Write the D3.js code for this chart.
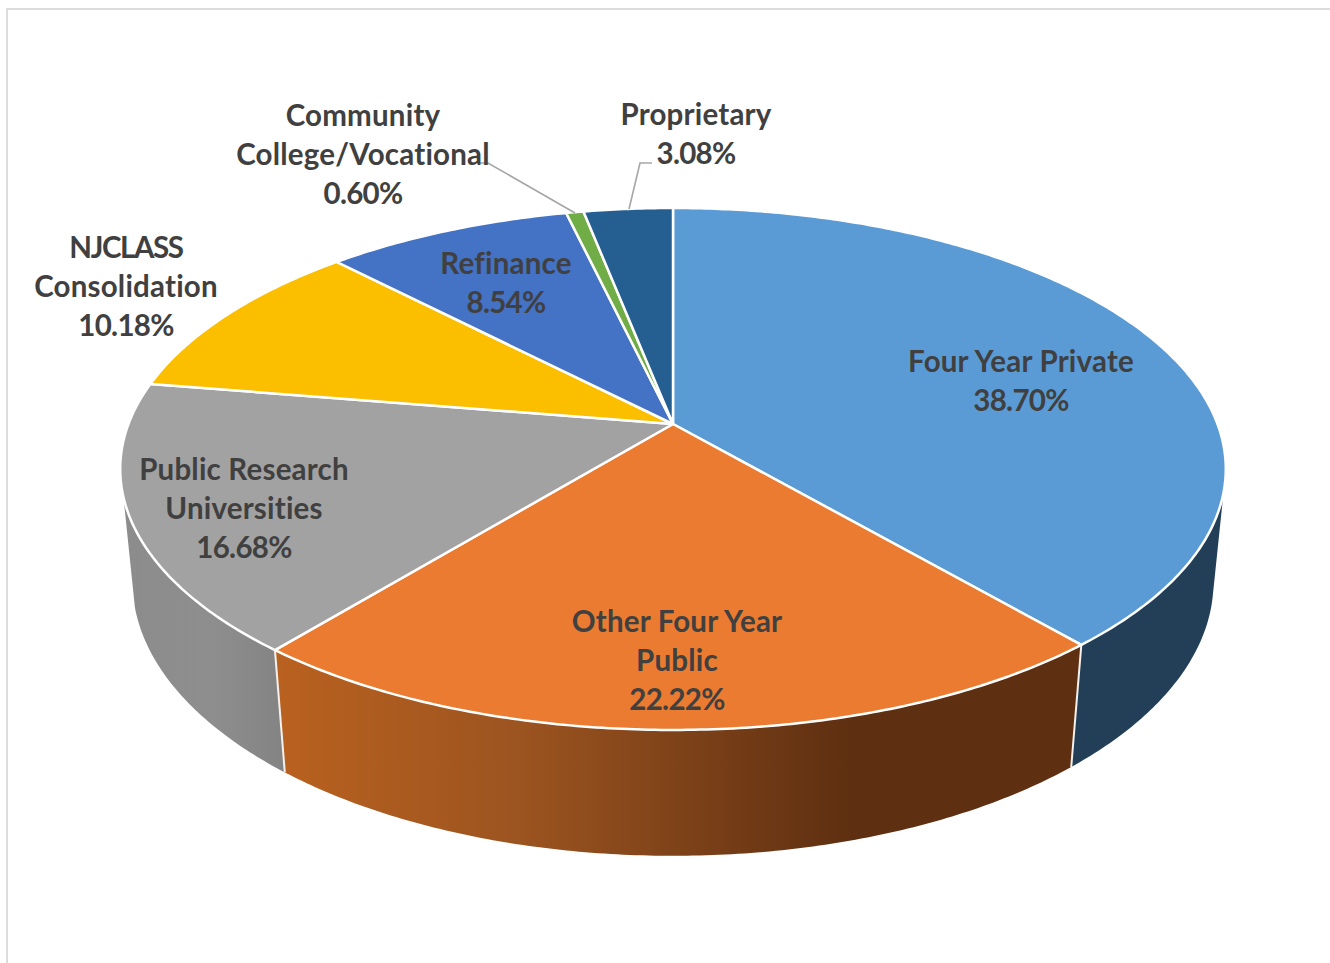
<!DOCTYPE html>
<html><head><meta charset="utf-8">
<script src="https://cdn.jsdelivr.net/npm/d3@7"></script>
<style>html,body{margin:0;padding:0;background:#fff;overflow:hidden}svg{display:block}
text{font-family:Lato,"Open Sans",sans-serif;font-weight:700;fill:#404040;text-anchor:middle}</style>
</head><body><svg id="c" width="1330" height="963"></svg>
<script>
// ---- data ----
const categories = ["Four Year Private","Other Four Year Public","Public Research Universities","NJCLASS Consolidation","Refinance","Community College/Vocational","Proprietary"];
const shares = [38.70,22.22,16.68,10.18,8.54,0.60,3.08];
const labelLines = [["Four Year Private"],["Other Four Year","Public"],["Public Research","Universities"],["NJCLASS","Consolidation"],["Refinance"],["Community","College/Vocational"],["Proprietary"]];
const colors = ["#5B9BD5","#EA7B30","#A2A2A2","#FBBF00","#4472C4","#70AD47","#255E91"];
// ---- layout ----
const labelCenters = [[1021,361],[677,621],[244,469],[126,247],[506,263],[363,115],[696,114]];
const lineGap = 39, fontSize = 29.5;
const leaders = {5:[[478,163],[488,163],[575,213]],6:[[652,163],[640,163],[629,209]]};
const cx = 673, k = 544.5, a = 180.1, b = 424, c = -0.1724, depth = 123, shrink = 0.022;

const svg = d3.select("#c");
const defs = svg.append("defs");
// page frame
svg.append("path").attr("d","M7 963V9H1330").attr("fill","none").attr("stroke","#dcdcdc").attr("stroke-width",2);

// perspective projection of a unit disc lying on the tilted plane
function project(r, th, lower){
  const s = r*Math.sin(th), t = -r*Math.cos(th);
  const w = 1 + c*t + (lower?shrink:0);
  return [cx + k*s/w, (a*t + b + (lower?depth:0))/w];
}
const line = d3.line();
const arcPts = (t0,t1,lower)=>{
  const n = Math.max(2,Math.ceil(Math.abs(t1-t0)/0.01));
  return d3.range(n+1).map(i=>project(1,t0+(t1-t0)*i/n,lower));
};
const arcs = d3.pie().sort(null).value(d=>d)(shares);

// side-wall gradients
function grad(id,x1,x2,stops){
  const g = defs.append("linearGradient").attr("id",id).attr("gradientUnits","userSpaceOnUse")
    .attr("x1",x1).attr("x2",x2).attr("y1",0).attr("y2",0);
  stops.forEach(s=>g.append("stop").attr("offset",s[0]).attr("stop-color",s[1]));
}
grad("sideOrange",280,1075,[[0,"#B9611F"],[0.3,"#9C5420"],[0.72,"#5E2F11"],[1,"#5E2F11"]]);
grad("sideGray",125,285,[[0,"#8C8C8C"],[0.55,"#8E8E8E"],[1,"#838383"]]);

const rad = d=>d*Math.PI/180;
const sides = [
  {i:0, up:[rad(105),null], lo:[rad(103),null], fill:"#233F57"},
  {i:1, fill:"url(#sideOrange)"},
  {i:2, up:[null,rad(254)], lo:[null,rad(255)], fill:"url(#sideGray)"}
];
svg.append("g").selectAll("path").data(sides).join("path")
  .attr("d",d=>{
    const A = arcs[d.i];
    const u0 = d.up&&d.up[0]!=null?d.up[0]:A.startAngle, u1 = d.up&&d.up[1]!=null?d.up[1]:A.endAngle;
    const l0 = d.lo&&d.lo[0]!=null?d.lo[0]:A.startAngle, l1 = d.lo&&d.lo[1]!=null?d.lo[1]:A.endAngle;
    return line(arcPts(u0,u1,false).concat(arcPts(l1,l0,true)))+"Z";
  })
  .attr("fill",d=>d.fill);
// white seams on the wall
svg.append("g").selectAll("line").data([arcs[0].endAngle,arcs[1].endAngle]).join("line")
  .attr("x1",d=>project(1,d,false)[0]).attr("y1",d=>project(1,d,false)[1])
  .attr("x2",d=>project(1,d,true)[0]).attr("y2",d=>project(1,d,true)[1])
  .attr("stroke","#f4f1ee").attr("stroke-width",2);

// top face
svg.append("g").selectAll("path").data(arcs).join("path")
  .attr("d",d=>line([project(0,0,false)].concat(arcPts(d.startAngle,d.endAngle,false)))+"Z")
  .attr("fill",(d,i)=>colors[i])
  .attr("stroke","#fff").attr("stroke-width",2.5).attr("stroke-linejoin","round");

// leader lines
svg.append("g").selectAll("path").data(Object.values(leaders)).join("path")
  .attr("d",d=>line(d)).attr("fill","none").attr("stroke","#A6A6A6").attr("stroke-width",1.6);

// labels
const fmt = d3.format(".2f");
const lab = svg.append("g").attr("font-size",fontSize);
categories.forEach((name,i)=>{
  const lines = labelLines[i].concat(fmt(shares[i])+"%");
  lines.forEach((s,j)=>{
    const isPct = j===lines.length-1;
    lab.append("text").attr("x",labelCenters[i][0]).attr("y",labelCenters[i][1]+j*lineGap+11)
      .attr("letter-spacing",isPct?-0.7:(s==="NJCLASS"?-1.4:0.2)).text(s);
  });
});
</script></body></html>
